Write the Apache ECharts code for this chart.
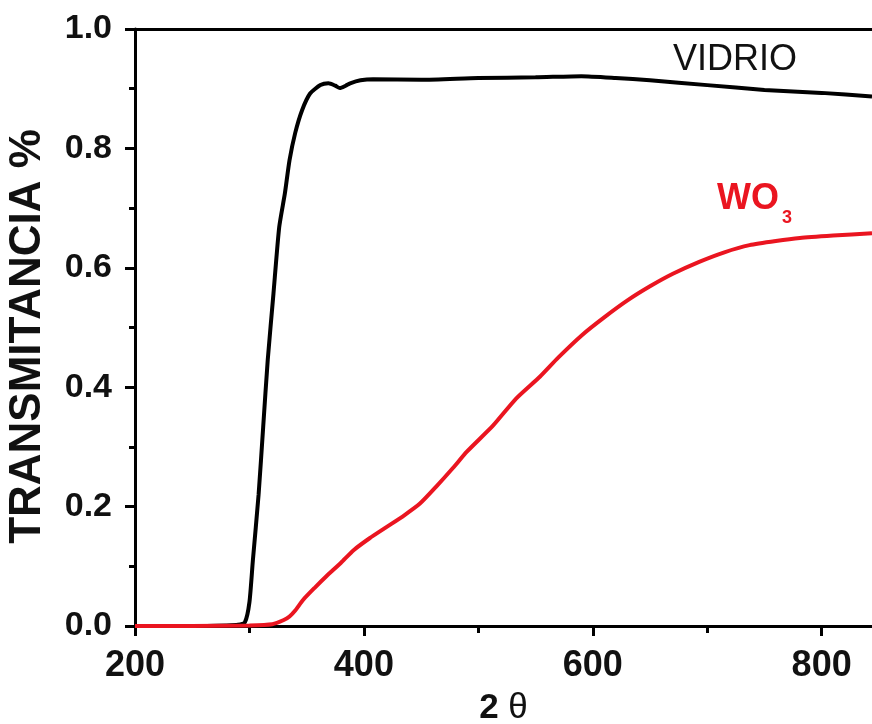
<!DOCTYPE html>
<html>
<head>
<meta charset="utf-8">
<script src="https://cdn.jsdelivr.net/npm/echarts@6/dist/echarts.min.js"></script>
<style>
  html, body { margin: 0; padding: 0; background: #fff; }
  #chart { width: 872px; height: 724px; }
</style>
</head>
<body>
<div id="chart"></div>
<script>
// VIDRIO (vidrio) - transmitancia
const vidrioX = [200, 250, 280, 290, 296, 300, 303, 308, 312, 316, 321, 326, 331, 335, 340, 346, 353, 362, 369, 375, 379, 384, 388, 397, 408, 450, 500, 550, 590, 620, 650, 700, 750, 800, 844];
const vidrioY = [0, 0, 0.001, 0.002, 0.006, 0.04, 0.11, 0.22, 0.333, 0.446, 0.557, 0.668, 0.725, 0.78, 0.826, 0.864, 0.892, 0.906, 0.909, 0.905, 0.901, 0.905, 0.909, 0.914, 0.916, 0.915, 0.918, 0.919, 0.921, 0.918, 0.914, 0.906, 0.898, 0.893, 0.887];

// WO3
const wo3X = [200, 250, 300, 320, 330, 335, 340, 347, 357, 367, 380, 391, 405, 420, 435, 449, 463, 478, 490, 513, 533, 554, 570, 591, 610, 630, 650, 670, 693, 715, 737, 760, 781, 810, 844];
const wo3Y = [0, 0, 0.001, 0.003, 0.01, 0.016, 0.026, 0.044, 0.064, 0.083, 0.106, 0.127, 0.147, 0.166, 0.185, 0.205, 0.233, 0.265, 0.292, 0.336, 0.381, 0.418, 0.45, 0.488, 0.517, 0.545, 0.569, 0.59, 0.61, 0.626, 0.638, 0.645, 0.65, 0.654, 0.658];

const xMajor = [200, 400, 600, 800];
const xMinor = [300, 500, 700];

const FONT = "'Liberation Sans', Arial, sans-serif";
const RED = '#ea1520';

function pairs(xs, ys) {
    return xs.map(function (x, i) { return [x, ys[i]]; });
}

const chart = echarts.init(document.getElementById('chart'), null, {renderer: 'canvas'});

const option = {
    backgroundColor: '#fff',
    animation: false,
    grid: {
        left: 135, top: 29, right: 0, bottom: 98,
        containLabel: false,
        outerBoundsMode: 'none'
    },
    xAxis: [
        {
            type: 'value', position: 'bottom',
            min: 200, max: 844,
            axisLine: {show: true, lineStyle: {color: '#000', width: 3}},
            axisTick: {show: true, inside: false, length: 10, customValues: xMajor, lineStyle: {color: '#000', width: 3}},
            axisLabel: {
                customValues: xMajor, margin: 22,
                color: '#111', fontFamily: FONT, fontWeight: 'bold', fontSize: 36
            },
            splitLine: {show: false},
            name: '{b|2} {t|θ}',
            nameLocation: 'middle',
            nameGap: 65,
            nameTextStyle: {
                color: '#111', fontFamily: FONT, fontSize: 35,
                rich: {
                    b: {fontFamily: FONT, fontWeight: 'bold', fontSize: 35, color: '#111'},
                    t: {fontFamily: FONT, fontWeight: 'normal', fontSize: 35, color: '#111'}
                }
            }
        },
        {
            // minor ticks between labels
            type: 'value', position: 'bottom',
            min: 200, max: 844,
            axisLine: {show: false},
            axisTick: {show: true, inside: false, length: 7, customValues: xMinor, lineStyle: {color: '#000', width: 3}},
            axisLabel: {show: false},
            splitLine: {show: false}
        },
        {
            // marco superior
            type: 'value', position: 'top',
            min: 200, max: 844,
            axisLine: {show: true, lineStyle: {color: '#000', width: 3}},
            axisTick: {show: false},
            axisLabel: {show: false},
            splitLine: {show: false}
        }
    ],
    yAxis: {
        type: 'value', position: 'left',
        min: 0, max: 1, interval: 0.2,
        axisLine: {show: true, lineStyle: {color: '#000', width: 3}},
        axisTick: {show: true, inside: false, length: 10, lineStyle: {color: '#000', width: 3}},
        minorTick: {show: true, splitNumber: 2, length: 6, lineStyle: {color: '#000', width: 3}},
        axisLabel: {
            margin: 23,
            color: '#111', fontFamily: FONT, fontWeight: 'bold', fontSize: 34,
            formatter: function (v) { return v.toFixed(1); }
        },
        splitLine: {show: false},
        name: 'TRANSMITANCIA %',
        nameLocation: 'middle',
        nameRotate: 90,
        nameGap: 85,
        nameTextStyle: {color: '#111', fontFamily: FONT, fontWeight: 'bold', fontSize: 44, padding: [0, 18, 0, 0]}
    },
    series: [
        {
            name: 'VIDRIO', type: 'line',
            xAxisIndex: 0, yAxisIndex: 0,
            data: pairs(vidrioX, vidrioY),
            showSymbol: false, smooth: 0.2,
            lineStyle: {color: '#000', width: 4},
            z: 3
        },
        {
            name: 'WO3', type: 'line',
            xAxisIndex: 0, yAxisIndex: 0,
            data: pairs(wo3X, wo3Y),
            showSymbol: false, smooth: 0.2,
            lineStyle: {color: RED, width: 4},
            z: 4
        }
    ],
    graphic: [
        {
            type: 'text', left: 673, top: 42,
            style: {text: 'VIDRIO', fill: '#111', font: 'normal 36px ' + FONT}
        },
        {
            type: 'text', left: 717, top: 181,
            style: {text: 'WO', fill: RED, font: 'bold 36px ' + FONT}
        },
        {
            type: 'text', left: 782, top: 209,
            style: {text: '3', fill: RED, font: 'bold 18px ' + FONT}
        }
    ]
};

chart.setOption(option);
</script>
</body>
</html>
